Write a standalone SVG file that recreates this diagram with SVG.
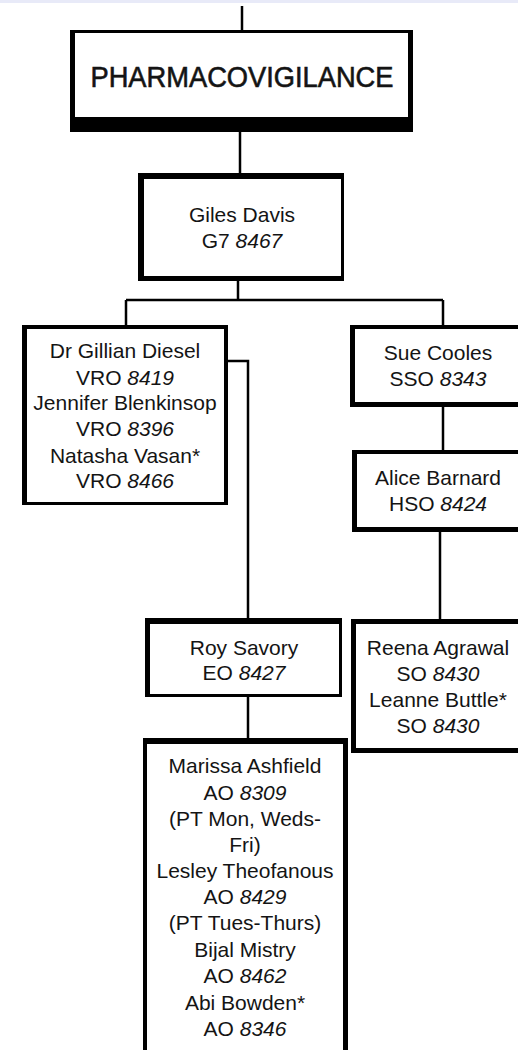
<svg xmlns="http://www.w3.org/2000/svg" width="518" height="1050" viewBox="0 0 518 1050">
<style>
.o{fill:#000}
.i{fill:#fff}
.t{font-family:"Liberation Sans",Arial,sans-serif;font-size:21px;fill:#141414;text-anchor:middle}
.n{font-style:italic}
.c{stroke:#000;stroke-width:2.5;fill:none}
</style>
<rect x="0" y="0" width="518" height="1050" fill="#fff"/>
<rect x="0" y="0" width="518" height="3" fill="#e8eaf8"/>
<g id="connectors">
<path class="c" d="M242 6V31"/>
<path class="c" d="M240 132V174"/>
<path class="c" d="M238 281V300M126 300H443M126 300V326M443 300V326"/>
<path class="c" d="M228 361H248V620"/>
<path class="c" d="M443 407V451"/>
<path class="c" d="M440 532V620"/>
<path class="c" d="M248 697V740"/>
</g>
<g id="pharmacovigilance">
<rect class="o" x="70" y="30" width="343" height="102"/>
<rect class="i" x="75" y="33" width="333" height="84"/>
<text class="t" x="242" y="87" style="font-size:29px;stroke:#141414;stroke-width:0.6" textLength="303" lengthAdjust="spacingAndGlyphs">PHARMACOVIGILANCE</text>
</g>
<g id="giles">
<rect class="o" x="138" y="173" width="206" height="108"/>
<rect class="i" x="144" y="179" width="197" height="97"/>
<text class="t" x="242" y="222">Giles Davis</text>
<text class="t" x="242" y="248">G7 <tspan class="n">8467</tspan></text>
</g>
<g id="gillian">
<rect class="o" x="22" y="325" width="206" height="180"/>
<rect class="i" x="27" y="329" width="197" height="173"/>
<text class="t" x="125" y="358">Dr Gillian Diesel</text>
<text class="t" x="125" y="385">VRO <tspan class="n">8419</tspan></text>
<text class="t" x="125" y="410">Jennifer Blenkinsop</text>
<text class="t" x="125" y="436">VRO <tspan class="n">8396</tspan></text>
<text class="t" x="125" y="463">Natasha Vasan*</text>
<text class="t" x="125" y="488">VRO <tspan class="n">8466</tspan></text>
</g>
<g id="sue">
<rect class="o" x="350" y="325" width="177" height="82"/>
<rect class="i" x="355" y="329" width="172" height="73"/>
<text class="t" x="438" y="360">Sue Cooles</text>
<text class="t" x="438" y="386">SSO <tspan class="n">8343</tspan></text>
</g>
<g id="alice">
<rect class="o" x="352" y="450" width="175" height="82"/>
<rect class="i" x="357" y="454" width="170" height="73"/>
<text class="t" x="438" y="485">Alice Barnard</text>
<text class="t" x="438" y="511">HSO <tspan class="n">8424</tspan></text>
</g>
<g id="roy">
<rect class="o" x="145" y="618" width="197" height="79"/>
<rect class="i" x="150" y="624" width="189" height="70"/>
<text class="t" x="244" y="655">Roy Savory</text>
<text class="t" x="244" y="680">EO <tspan class="n">8427</tspan></text>
</g>
<g id="reena">
<rect class="o" x="351" y="619" width="176" height="134"/>
<rect class="i" x="356" y="624" width="171" height="124"/>
<text class="t" x="438" y="655">Reena Agrawal</text>
<text class="t" x="438" y="681">SO <tspan class="n">8430</tspan></text>
<text class="t" x="438" y="707">Leanne Buttle*</text>
<text class="t" x="438" y="733">SO <tspan class="n">8430</tspan></text>
</g>
<g id="marissa">
<rect class="o" x="143" y="738" width="205" height="317"/>
<rect class="i" x="147" y="744" width="196" height="311"/>
<text class="t" x="245" y="773">Marissa Ashfield</text>
<text class="t" x="245" y="800">AO <tspan class="n">8309</tspan></text>
<text class="t" x="245" y="826">(PT Mon, Weds-</text>
<text class="t" x="245" y="852">Fri)</text>
<text class="t" x="245" y="878">Lesley Theofanous</text>
<text class="t" x="245" y="904">AO <tspan class="n">8429</tspan></text>
<text class="t" x="245" y="930">(PT Tues-Thurs)</text>
<text class="t" x="245" y="957">Bijal Mistry</text>
<text class="t" x="245" y="983">AO <tspan class="n">8462</tspan></text>
<text class="t" x="245" y="1010">Abi Bowden*</text>
<text class="t" x="245" y="1036">AO <tspan class="n">8346</tspan></text>
</g>
</svg>
